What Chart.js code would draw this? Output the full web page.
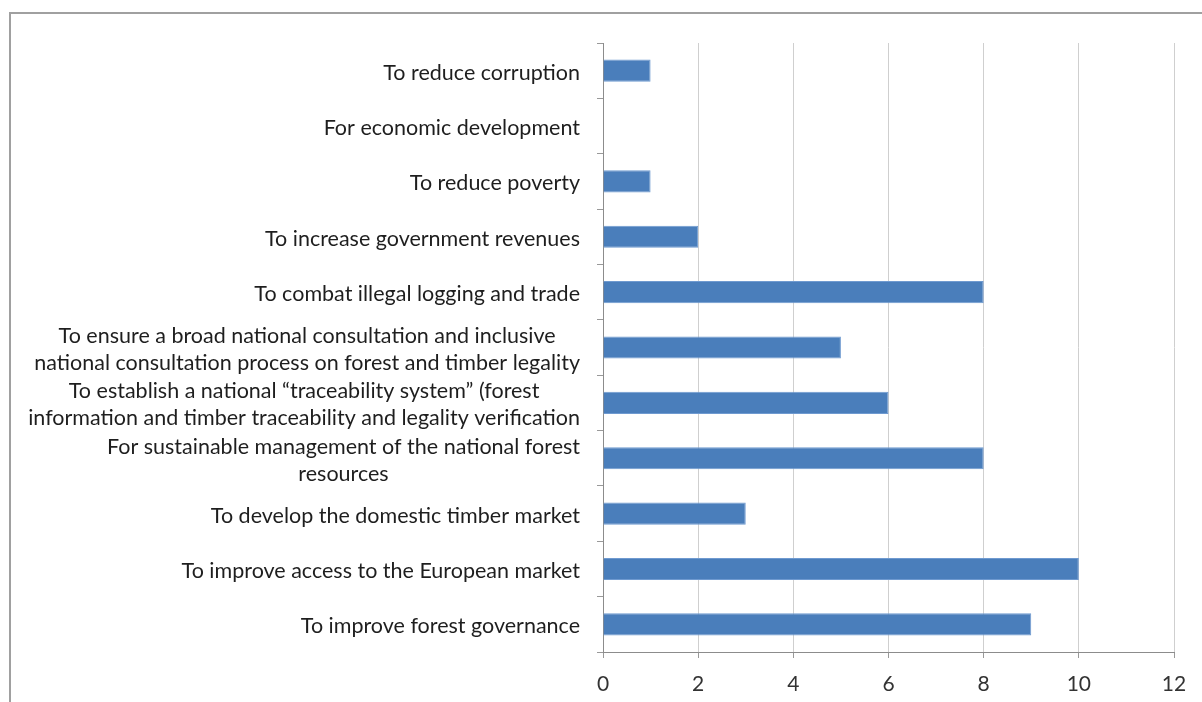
<!DOCTYPE html>
<html>
<head>
<meta charset="utf-8">
<script src="https://cdn.jsdelivr.net/npm/chart.js@4"></script>
<style>
    body { margin: 0; background: #fff; }
    #wrap { position: relative; width: 1202px; height: 702px; overflow: hidden; }
    #frame { position: absolute; left: 9px; top: 12px; width: 1300px; height: 800px;
             border-left: 2px solid #a0a0a0; border-top: 2px solid #a0a0a0; }
    canvas { position: absolute; left: 0; top: 0; }
</style>
</head>
<body>
<div id="wrap">
    <div id="frame"></div>
    <canvas id="myChart" width="1202" height="702"></canvas>
</div>
<script>
const categories = [
    ['To reduce corruption'],
    ['For economic development'],
    ['To reduce poverty'],
    ['To increase government revenues'],
    ['To combat illegal logging and trade'],
    ['To ensure a broad national consultation and inclusive', 'national consultation process on forest and timber legality'],
    ['To establish a national \u201ctraceability system\u201d (forest', 'information and timber traceability and legality verification'],
    ['For sustainable management of the national forest', 'resources'],
    ['To develop the domestic timber market'],
    ['To improve access to the European market'],
    ['To improve forest governance']
];
const counts = [1, 0, 1, 2, 8, 5, 6, 8, 3, 10, 9];
const xTicks = [0, 2, 4, 6, 8, 10, 12];

const labelFont = '21.5px Lato';

// category labels: lines centred on each other, block right-aligned to the axis
const labelPlugin = {
    id: 'labels',
    afterDraw(chart) {
        const ctx = chart.ctx;
        const yScale = chart.scales.y;
        const rightEdge = 580;
        const lineHeight = 27;
        ctx.save();
        ctx.font = labelFont;
        ctx.fillStyle = '#1e1e1e';
        ctx.textAlign = 'center';
        ctx.textBaseline = 'middle';
        categories.forEach((lines, i) => {
            const widest = Math.max(...lines.map(l => ctx.measureText(l).width));
            const cx = rightEdge - widest / 2;
            const cy = yScale.getPixelForValue(i) + 2;
            const top = cy - (lines.length - 1) * lineHeight / 2;
            lines.forEach((line, j) => {
                ctx.fillText(line, cx, top + j * lineHeight);
            });
        });
        ctx.restore();
    }
};

function makeChart() {
    const ctx = document.getElementById('myChart');

    new Chart(ctx, {
        type: 'bar',
        data: {
            labels: categories.map(c => c.join(' ')),
            datasets: [{
                data: counts,
                backgroundColor: '#4a7ebb',
                borderColor: '#6f9ad0',
                borderWidth: 1,
                barPercentage: 0.4,
                categoryPercentage: 1
            }]
        },
        options: {
            indexAxis: 'y',
            responsive: false,
            animation: false,
            devicePixelRatio: 1,
            layout: { padding: { top: 43, right: 28, left: 0, bottom: 0 } },
            plugins: {
                legend: { display: false },
                tooltip: { enabled: false }
            },
            scales: {
                x: {
                    min: 0,
                    max: 12,
                    afterFit: s => { s.height = 50; },
                    afterBuildTicks: s => { s.ticks = xTicks.map(v => ({ value: v })); },
                    grid: { color: '#cfcfcf', tickLength: 6, tickColor: '#999' },
                    border: { color: '#8c8c8c', width: 1 },
                    ticks: { font: { family: 'Lato', size: 21 }, color: '#333', padding: 14 }
                },
                y: {
                    afterFit: s => { s.width = 603; },
                    grid: { drawOnChartArea: false, offset: true, tickLength: 6, color: '#999' },
                    border: { color: '#8c8c8c', width: 1 },
                    ticks: { display: false }
                }
            }
        },
        plugins: [labelPlugin]
    });
}

makeChart();
</script>
</body>
</html>
